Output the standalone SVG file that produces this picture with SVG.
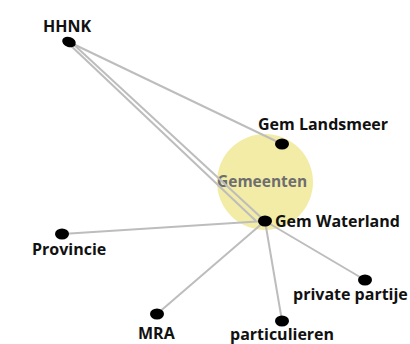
<svg xmlns="http://www.w3.org/2000/svg" width="410" height="344" viewBox="0 0 410 344">
<style>
.lbl{font-family:"Open Sans","Noto Sans","DejaVu Sans",sans-serif;font-weight:bold;font-size:16px;fill:#111}
.edge{stroke:#bdbdbd;stroke-width:2;fill:none}
.dot{fill:#000}
</style>
<rect width="410" height="344" fill="#fff"/>
<g id="group-gemeenten">
<circle cx="265" cy="182" r="48" fill="#f2eca6"/>
<text x="217" y="187" font-family="'Open Sans','Noto Sans',sans-serif" font-weight="bold" font-size="15.5" fill="#6e6e6e">Gemeenten</text>
</g>
<g id="connectors">
<line class="edge" x1="69" y1="42" x2="282" y2="144"/>
<line class="edge" x1="68" y1="43" x2="256" y2="221"/>
<line class="edge" x1="71" y1="42" x2="266" y2="222"/>
<line class="edge" x1="265" y1="221" x2="62" y2="234"/>
<line class="edge" x1="265" y1="221" x2="157" y2="314"/>
<line class="edge" x1="265" y1="221" x2="282" y2="321"/>
<line class="edge" x1="265" y1="221" x2="365" y2="280"/>
</g>
<g id="node-hhnk">
<ellipse class="dot" cx="69" cy="42" rx="7" ry="5" transform="rotate(20 69 42)"/>
<text class="lbl" x="67" y="32" text-anchor="middle">HHNK</text>
</g>
<g id="node-gem-landsmeer">
<ellipse class="dot" cx="282" cy="144" rx="7" ry="5.5"/>
<text class="lbl" x="258" y="130">Gem Landsmeer</text>
</g>
<g id="node-gem-waterland">
<ellipse class="dot" cx="265" cy="221" rx="7" ry="5.5"/>
<text class="lbl" x="275" y="227">Gem Waterland</text>
</g>
<g id="node-provincie">
<ellipse class="dot" cx="62" cy="234" rx="7" ry="5.5"/>
<text class="lbl" x="32" y="255">Provincie</text>
</g>
<g id="node-mra">
<ellipse class="dot" cx="157" cy="314" rx="7" ry="5.5"/>
<text class="lbl" x="138" y="339">MRA</text>
</g>
<g id="node-particulieren">
<ellipse class="dot" cx="282" cy="321" rx="7" ry="5.5"/>
<text class="lbl" x="230" y="339.5">particulieren</text>
</g>
<g id="node-private-partije">
<ellipse class="dot" cx="365" cy="280" rx="7" ry="5.5"/>
<text class="lbl" x="293" y="300">private partije</text>
</g>
</svg>
